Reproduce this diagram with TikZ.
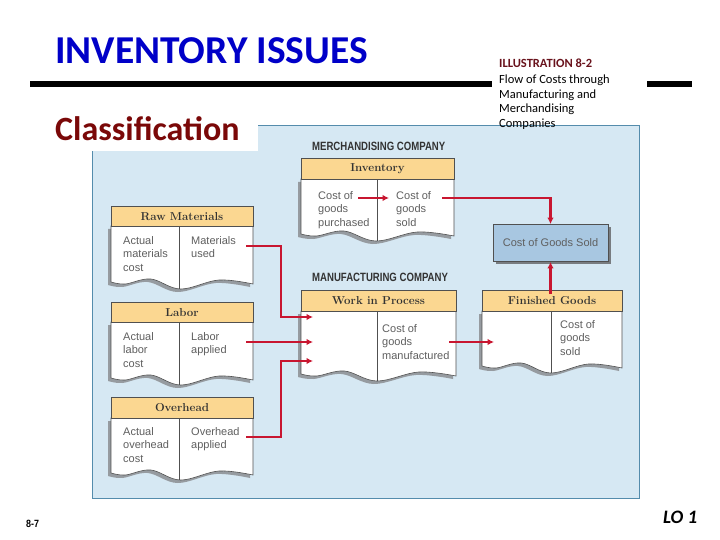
\documentclass[tikz,border=0pt]{standalone}
\usepackage{fontspec}
\newfontfamily\calfont{Carlito}
\newfontfamily\lsans{Liberation Sans}
\usetikzlibrary{calc,arrows.meta}
\definecolor{ttlblue}{RGB}{0,0,200}
\definecolor{clsred}{RGB}{122,8,8}
\definecolor{illred}{RGB}{105,18,28}
\definecolor{panelfill}{RGB}{214,232,243}
\definecolor{panelline}{RGB}{84,140,172}
\definecolor{hdrfill}{RGB}{251,215,145}
\definecolor{arrred}{RGB}{200,22,48}
\definecolor{cogsfill}{RGB}{168,199,225}
\definecolor{txtgray}{RGB}{95,95,95}
\definecolor{boxline}{RGB}{80,80,80}
\definecolor{shadowgray}{RGB}{150,155,160}
\tikzset{
  boxedge/.style={draw=boxline, line width=0.6pt},
  hdrtext/.style={inner sep=0, font=\bfseries\fontsize{11.5}{13}\selectfont, text=black!80},
  bodytext/.style={inner sep=0, anchor=north west, align=left, font=\lsans\fontsize{11}{13.5}\selectfont, text=txtgray},
  sectlabel/.style={inner sep=0, anchor=west, xscale=0.8, font=\lsans\bfseries\fontsize{12}{13}\selectfont, text=black!80},
  flow/.style={draw=arrred, line width=2.3pt, -{Latex[length=6.5pt,width=6.5pt]}},
  cogsbox/.style={draw=boxline, line width=0.8pt, fill=cogsfill, minimum width=115pt, minimum height=37pt, inner sep=0, font=\lsans\fontsize{11}{13}\selectfont, text=txtgray},
}
% #1 name, #2 x0, #3 x1, #4 ytop, #5 yhead, #6 ybottom, #7 xdiv, #8 header
\newcommand\tacct[8]{%
  \pgfmathsetmacro\tw{#3-#2}%
  \fill[shadowgray, shift={(-3,3)}] (#2,#5) -- (#3,#5) -- (#3,#6-3) -- plot[smooth,tension=0.6] coordinates {(#3,#6-3) (#2+0.76*\tw,#6-7) (#2+0.49*\tw,#6+2) (#2+0.28*\tw,#6-8) (#2+0.1*\tw,#6-3) (#2,#6-5)} -- cycle;
  \draw[boxedge, fill=white] (#2,#5) -- (#3,#5) -- (#3,#6-3) -- plot[smooth,tension=0.6] coordinates {(#3,#6-3) (#2+0.76*\tw,#6-7) (#2+0.49*\tw,#6+2) (#2+0.28*\tw,#6-8) (#2+0.1*\tw,#6-3) (#2,#6-5)} -- cycle;
  \draw[boxedge] (#7,#5) -- (#7,#6+1.5);
  \draw[boxedge, fill=hdrfill] (#2,#4) rectangle (#3,#5);
  \node[hdrtext] (#1) at ({(#2+#3)/2},{(#4+#5)/2+0.5}) {#8};
}
\begin{document}
\begin{tikzpicture}[x=1pt,y=-1pt]
\useasboundingbox (0,0) rectangle (720,540);
\fill[white] (0,0) rectangle (720,540);

% title and rule
\node[anchor=base west, inner sep=0, font=\calfont\bfseries\fontsize{39.5}{40}\selectfont, text=ttlblue] (title) at (55,64) {INVENTORY ISSUES};
\draw[line width=6pt] (30,84) -- (492,84);
\draw[line width=6pt] (647,84) -- (692,84);

% panel
\draw[panelline, fill=panelfill, line width=0.9pt] (92,125) rectangle (639,498);
\fill[white] (50,104) rectangle (258,151);
\node[anchor=base west, inner sep=0, font=\calfont\bfseries\fontsize{34}{34}\selectfont, text=clsred] (classif) at (55,141) {Classification};

% illustration caption
\node[anchor=base west, inner sep=0, font=\calfont\bfseries\fontsize{12.5}{14}\selectfont, text=illred] (ill) at (499,68) {ILLUSTRATION 8-2};
\node[anchor=base west, inner sep=0, font=\calfont\fontsize{12.5}{14}\selectfont] (cap1) at (499,84) {Flow of Costs through};
\node[anchor=base west, inner sep=0, font=\calfont\fontsize{12.5}{14}\selectfont] (cap2) at (499,98.5) {Manufacturing and};
\node[anchor=base west, inner sep=0, font=\calfont\fontsize{12.5}{14}\selectfont] (cap3) at (499,113) {Merchandising};
\node[anchor=base west, inner sep=0, font=\calfont\fontsize{12.5}{14}\selectfont] (cap4) at (499,127.5) {Companies};

% section labels
\node[sectlabel] (merch) at (312,146) {MERCHANDISING COMPANY};
\node[sectlabel] (manuf) at (312,277) {MANUFACTURING COMPANY};

% accounts
\tacct{inv}{301}{454}{158}{179}{239}{377}{Inventory}
\tacct{raw}{111}{253}{206}{226}{287}{179}{Raw Materials}
\tacct{lab}{111}{253}{302}{322}{383}{179}{Labor}
\tacct{ovh}{111}{253}{397}{418}{478}{179}{Overhead}
\tacct{wip}{301}{456}{290}{311}{379}{377}{Work in Process}
\tacct{fg}{482}{622}{290}{311}{371}{551}{Finished Goods}

% body texts
\node[bodytext] (invL) at (318,191) {Cost of\\goods\\purchased};
\node[bodytext] (invR) at (396,191) {Cost of\\goods\\sold};
\node[bodytext] (rawL) at (123,236) {Actual\\materials\\cost};
\node[bodytext] (rawR) at (191,236) {Materials\\used};
\node[bodytext] (labL) at (123,332) {Actual\\labor\\cost};
\node[bodytext] (labR) at (191,332) {Labor\\applied};
\node[bodytext] (ovhL) at (123,427) {Actual\\overhead\\cost};
\node[bodytext] (ovhR) at (191,427) {Overhead\\applied};
\node[bodytext] (wipR) at (382,324) {Cost of\\goods\\manufactured};
\node[bodytext] (fgR) at (560,320) {Cost of\\goods\\sold};

% cost of goods sold
\fill[shadowgray!80!black] (495.5,227) rectangle (610.5,264);
\node[cogsbox] (cogs) at (550.5,243) {Cost of Goods Sold};

% connector end points
\coordinate (invOutL) at (358,198);
\coordinate (invInR) at (389,198);
\coordinate (invOut) at (442,198);
\coordinate (muse) at (246,246);
\coordinate (luse) at (246,342);
\coordinate (ouse) at (246,437);
\coordinate (wipIn1) at (313,317);
\coordinate (wipIn2) at (313,342);
\coordinate (wipIn3) at (313,361);
\coordinate (wipOut) at (449,342);
\coordinate (fgIn) at (494,342);

% connectors
\draw[flow] (invOutL) -- (invInR);
\draw[flow] (invOut) -| (cogs.north);
\draw[flow] (fg.north -| cogs.south) ++(0,-2.5) -- (cogs.south);
\draw[flow] (muse) -| ($(wipIn1)+(-32,0)$) -- (wipIn1);
\draw[flow] (luse) -- (wipIn2);
\draw[flow] (ouse) -| ($(wipIn3)+(-32,0)$) -- (wipIn3);
\draw[flow] (wipOut) -- (fgIn);

% footer
\node[anchor=base west, inner sep=0, xscale=0.85, font=\lsans\bfseries\fontsize{10.5}{12}\selectfont] (pg) at (26,527) {8-7};
\node[anchor=base west, inner sep=0, font=\calfont\bfseries\itshape\fontsize{19}{19}\selectfont] (lo) at (663,523) {LO 1};
\end{tikzpicture}
\end{document}
